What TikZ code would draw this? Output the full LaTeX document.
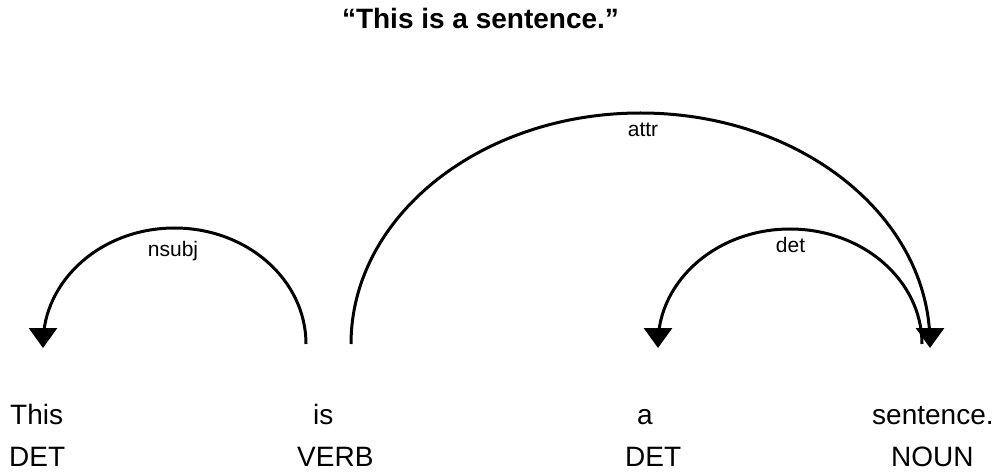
\documentclass[tikz,border=0pt]{standalone}
\usepackage{fontspec}
\setmainfont{Liberation Sans}
\usetikzlibrary{arrows.meta}
\tikzset{
  word/.style={anchor=base west, inner sep=0pt, font=\fontsize{28}{34}\selectfont},
  lbl/.style={anchor=base, inner sep=0pt, font=\fontsize{21}{25}\selectfont},
  ttl/.style={anchor=base, inner sep=0pt, font=\fontsize{28}{34}\selectfont\bfseries},
  dep/.style={line width=3pt, -{Triangle[width=28pt,length=20pt]}}
}
\begin{document}
\begin{tikzpicture}[x=1pt,y=1pt]
\useasboundingbox[fill=white] (0,0) rectangle (1004,-473);
% title
\node[ttl] (title) at (480.5,-29) {“This is a sentence.”};
% words and tags
\node[word] (w1) at (10,-424) {This};
\node[word] (t1) at (9,-466) {DET};
\node[word] (w2) at (313,-424) {is};
\node[word] (t2) at (297,-466) {VERB};
\node[word] (w3) at (637,-424) {a};
\node[word] (t3) at (625,-466) {DET};
\node[word] (w4) at (872,-424) {sentence.};
\node[word] (t4) at (891,-466) {NOUN};
% arc end points
\coordinate (nsubjS) at (306,-344);
\coordinate (nsubjT) at (43,-348);
\coordinate (attrS) at (351,-344);
\coordinate (attrT) at (930,-348);
\coordinate (detS) at (922,-344);
\coordinate (detT) at (658,-348);
% arcs
\draw[dep] (nsubjS) arc[start angle=0, end angle=180, x radius=131.5pt, y radius=116pt] -- (nsubjT);
\draw[dep] (attrS) arc[start angle=180, end angle=0, x radius=289.5pt, y radius=231pt] -- (attrT);
\draw[dep] (detS) arc[start angle=0, end angle=180, x radius=132pt, y radius=115pt] -- (detT);
% labels
\node[lbl] (l1) at (173,-256) {nsubj};
\node[lbl] (l2) at (643,-137) {attr};
\node[lbl] (l3) at (790.5,-252) {det};
\end{tikzpicture}
\end{document}
